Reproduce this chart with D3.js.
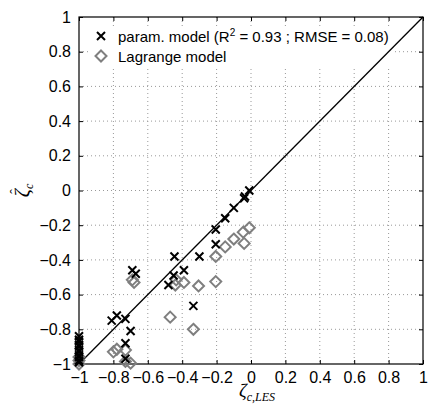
<!DOCTYPE html>
<html><head><meta charset="utf-8">
<script src="https://cdn.jsdelivr.net/npm/d3@7/dist/d3.min.js"></script>
<style>body{margin:0;background:#fff}svg{display:block}</style>
</head><body><svg id="c" width="432" height="406"></svg>
<script>
const ticks = [-1,-0.8,-0.6,-0.4,-0.2,0,0.2,0.4,0.6,0.8,1];
const tickLabels = ["\u22121","\u22120.8","\u22120.6","\u22120.4","\u22120.2","0","0.2","0.4","0.6","0.8","1"];
const seriesNames = ["param. model (R\u00b2 = 0.93 ; RMSE = 0.08)","Lagrange model"];
const paramX = [-1,-1,-1,-1,-1,-1,-1,-1,-1,-1,-1,
  -0.81,-0.78,-0.73,-0.70,-0.73,-0.73,-0.69,-0.67,-0.48,-0.45,-0.445,-0.39,-0.335,-0.30,-0.205,-0.205,-0.15,-0.10,-0.04,-0.035,-0.01];
const paramY = [-0.84,-0.86,-0.87,-0.89,-0.90,-0.92,-0.93,-0.95,-0.96,-0.98,-0.99,
  -0.75,-0.72,-0.74,-0.81,-0.88,-0.97,-0.46,-0.48,-0.545,-0.49,-0.38,-0.46,-0.665,-0.38,-0.31,-0.225,-0.16,-0.10,-0.045,-0.035,0.0];
const lagX = [-1,-1,-1,
  -0.80,-0.78,-0.73,-0.73,-0.70,-0.69,-0.68,-0.47,-0.44,-0.435,-0.39,-0.305,-0.335,-0.205,-0.205,-0.15,-0.10,-0.04,-0.045,-0.01];
const lagY = [-0.96,-0.98,-1.0,
  -0.93,-0.915,-0.92,-0.985,-0.995,-0.515,-0.53,-0.73,-0.545,-0.515,-0.53,-0.55,-0.80,-0.525,-0.38,-0.325,-0.28,-0.305,-0.24,-0.215];

const svg = d3.select("#c");
const L=79,R=423,T=17,B=364;
const x = d3.scaleLinear().domain([-1,1]).range([L,R]);
const y = d3.scaleLinear().domain([-1,1]).range([B,T]);
const fmt = d => tickLabels[ticks.findIndex(t=>Math.abs(t-d)<1e-9)];

// grid
const g = svg.append("g");
g.selectAll(".gx").data(ticks.slice(1,-1)).enter().append("line")
  .attr("x1",d=>x(d)).attr("x2",d=>x(d)).attr("y1",T).attr("y2",B)
  .attr("stroke","#999").attr("stroke-width",1).attr("stroke-dasharray","1,3");
g.selectAll(".gy").data(ticks.slice(1,-1)).enter().append("line")
  .attr("y1",d=>y(d)).attr("y2",d=>y(d)).attr("x1",L).attr("x2",R)
  .attr("stroke","#999").attr("stroke-width",1).attr("stroke-dasharray","1,3");

// axes
const font = "'Liberation Sans', Arial, sans-serif";
function styleAxis(sel){ sel.select(".domain").remove(); sel.selectAll("line").attr("stroke","#000"); sel.selectAll("text").attr("font-family",font).attr("font-size",16).attr("fill","#000"); }
svg.append("g").attr("transform",`translate(0,${B})`).call(d3.axisBottom(x).tickValues(ticks).tickFormat(fmt).tickSizeInner(-4).tickSizeOuter(0).tickPadding(8)).call(styleAxis);
svg.append("g").attr("transform",`translate(${L},0)`).call(d3.axisLeft(y).tickValues(ticks).tickFormat(fmt).tickSizeInner(-4).tickSizeOuter(0).tickPadding(8)).call(styleAxis);
svg.append("g").attr("transform",`translate(0,${T})`).call(d3.axisTop(x).tickValues(ticks).tickFormat("").tickSizeInner(-4).tickSizeOuter(0)).call(styleAxis);
svg.append("g").attr("transform",`translate(${R},0)`).call(d3.axisRight(y).tickValues(ticks).tickFormat("").tickSizeInner(-4).tickSizeOuter(0)).call(styleAxis);

const grey = "#7f7f7f";
function diamond(sel, cx, cy){ const s=5.5; sel.append("path").attr("d",`M${cx},${cy-s}L${cx+s},${cy}L${cx},${cy+s}L${cx-s},${cy}Z`).attr("fill","none").attr("stroke",grey).attr("stroke-width",2); }
function cross(sel, cx, cy){ const s=4; sel.append("path").attr("d",`M${cx-s},${cy-s}L${cx+s},${cy+s}M${cx-s},${cy+s}L${cx+s},${cy-s}`).attr("stroke","#000").attr("stroke-width",2); }

// legend
const lg = svg.append("g");
lg.append("rect").attr("x",88).attr("y",26).attr("width",306).attr("height",40).attr("fill","#fff");
cross(lg, 101, 36);
diamond(lg, 101, 56);
const lt = lg.append("text").attr("x",118).attr("y",42).attr("font-family",font).attr("font-size",15).text("param. model (R");
lt.append("tspan").attr("dy",-6).attr("font-size",10).text("2");
lt.append("tspan").attr("dy",6).text(" = 0.93 ; RMSE = 0.08)");
lg.append("text").attr("x",118).attr("y",62).attr("font-family",font).attr("font-size",15).text(seriesNames[1]);

// frame
svg.append("rect").attr("x",L).attr("y",T).attr("width",R-L).attr("height",B-T).attr("fill","none").attr("stroke","#000").attr("stroke-width",1.2);

// diagonal
svg.append("line").attr("x1",x(-1)).attr("y1",y(-1)).attr("x2",x(1)).attr("y2",y(1)).attr("stroke","#000").attr("stroke-width",1.3);

const pts = svg.append("g");
lagX.forEach((v,i)=>diamond(pts, x(v), y(lagY[i])));
paramX.forEach((v,i)=>cross(pts, x(v), y(paramY[i])));

// axis labels
const serif = "'Liberation Serif', 'Times New Roman', serif";
const xl = svg.append("text").attr("x",257).attr("y",397).attr("text-anchor","middle").attr("font-family",serif).attr("font-style","italic").attr("font-size",19);
xl.append("tspan").text("\u03b6");
xl.append("tspan").attr("dy",4).attr("font-size",12).text("c,LES");
const yg = svg.append("g").attr("transform",`translate(29,${(T+B)/2}) rotate(-90)`);
const yl = yg.append("text").attr("x",0).attr("y",0).attr("text-anchor","middle").attr("font-family",serif).attr("font-style","italic").attr("font-size",20);
yl.append("tspan").text("\u03b6");
yl.append("tspan").attr("dy",4).attr("font-size",12).text("c");
yg.append("text").attr("x",-1).attr("y",-9).attr("text-anchor","middle").attr("font-family",serif).attr("font-size",14).text("\u02c6");
</script></body></html>
